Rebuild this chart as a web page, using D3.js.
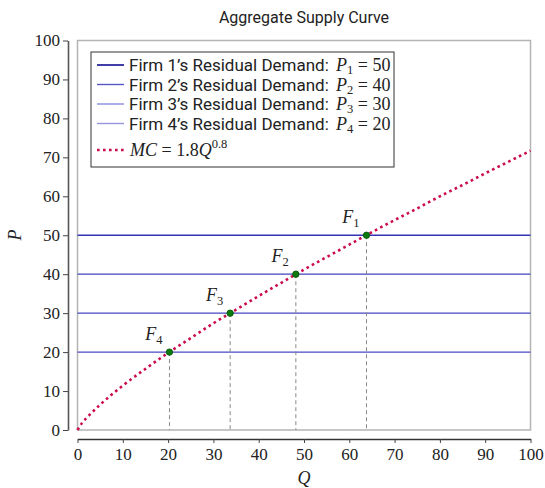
<!DOCTYPE html>
<html>
<head>
<meta charset="utf-8">
<script src="https://cdn.jsdelivr.net/npm/d3@7"></script>
<style>
  body { margin: 0; background: #fff; }
  svg { display: block; }
  .tick text { font-family: "Liberation Serif", serif; font-size: 17px; fill: #222; }
  .tick line { stroke: #444; }
</style>
</head>
<body>
<svg id="chart" width="545" height="488"></svg>
<script>
// residual demand levels, one per firm
var firms = ["1", "2", "3", "4"];
var demandP = [50, 40, 30, 20];
var crossQ = [63.8, 48.2, 33.7, 20.3];
// MC curve
var mcQ = [0, 1, 2, 5, 10, 15, 20, 25, 30, 35, 40, 45, 50, 55, 60, 65, 70, 75, 80, 85, 90, 95, 100];
var mcP = [0, 1.8, 3.1, 6.5, 11.4, 15.7, 19.8, 23.6, 27.4, 30.9, 34.4, 37.8, 41.2, 44.4, 47.6, 50.8, 53.9, 56.9, 60.0, 62.9, 65.9, 68.8, 71.7];
var xTicks = [0, 10, 20, 30, 40, 50, 60, 70, 80, 90, 100];
var yTicks = [0, 10, 20, 30, 40, 50, 60, 70, 80, 90, 100];

var lineColors = ["#3434b4", "#4242c0", "#4646c2", "#4a4ac4"];
var legendColors = ["#2a2a9e", "#5656c6", "#8c8cdc", "#9696de"];
var MC_COLOR = "#cc0a4e";
var SANS = "Roboto, sans-serif";
var SERIF = "Liberation Serif, serif";

var svg = d3.select("#chart");
var x = d3.scaleLinear().domain([0, 100]).range([77.5, 530.5]);
var y = d3.scaleLinear().domain([0, 100]).range([430, 40.5]);

// title
svg.append("text")
	.attr("x", 304).attr("y", 23)
	.attr("text-anchor", "middle")
	.style("font-family", SANS)
	.style("font-size", "16px")
	.style("fill", "#222")
	.text("Aggregate Supply Curve");

// plot frame
svg.append("rect")
	.attr("x", x(0)).attr("y", y(100))
	.attr("width", x(100) - x(0)).attr("height", y(0) - y(100))
	.attr("fill", "none").attr("stroke", "#b4b4b4").attr("stroke-width", 1.5);

// detached axes
var yAxis = svg.append("g")
	.attr("transform", "translate(68,0)")
	.call(d3.axisLeft(y).tickValues(yTicks).tickSize(5).tickSizeOuter(0).tickPadding(3));
yAxis.select(".domain").attr("stroke", "#555").attr("stroke-width", 1.6);

var xAxis = svg.append("g")
	.attr("transform", "translate(0,439)")
	.call(d3.axisBottom(x).tickValues(xTicks).tickSize(4).tickSizeOuter(0).tickPadding(5));
xAxis.select(".domain").attr("stroke", "#333").attr("stroke-width", 1.4);

svg.append("text")
	.attr("x", 304).attr("y", 484)
	.attr("text-anchor", "middle")
	.style("font-family", SERIF).style("font-style", "italic")
	.style("font-size", "18px").style("fill", "#222")
	.text("Q");

svg.append("text")
	.attr("transform", "translate(21,235) rotate(-90)")
	.attr("text-anchor", "middle")
	.style("font-family", SERIF).style("font-style", "italic")
	.style("font-size", "18px").style("fill", "#222")
	.text("P");

var plot = svg.append("g");

// residual demand lines
plot.selectAll("line.demand")
	.data(demandP)
	.enter().append("line")
	.attr("class", "demand")
	.attr("x1", x(0)).attr("x2", x(100))
	.attr("y1", function(d) { return y(d); })
	.attr("y2", function(d) { return y(d); })
	.attr("stroke", function(d, i) { return lineColors[i]; })
	.attr("stroke-width", function(d, i) { return i == 0 ? 1.6 : 1.2; });

// drops to the Q axis
plot.selectAll("line.drop")
	.data(crossQ)
	.enter().append("line")
	.attr("class", "drop")
	.attr("x1", function(d) { return x(d); })
	.attr("x2", function(d) { return x(d); })
	.attr("y1", function(d, i) { return y(demandP[i]); })
	.attr("y2", y(0))
	.attr("stroke", "#8a8a8a").attr("stroke-width", 1)
	.attr("stroke-dasharray", "4,3");

// MC curve
var mcLine = d3.line()
	.x(function(d) { return x(d[0]); })
	.y(function(d) { return y(d[1]); })
	.curve(d3.curveMonotoneX);

plot.append("path")
	.datum(d3.zip(mcQ, mcP))
	.attr("d", mcLine)
	.attr("fill", "none")
	.attr("stroke", MC_COLOR).attr("stroke-width", 2.6)
	.attr("stroke-dasharray", "2.6,3.4");

// intersection points
plot.selectAll("circle.cross")
	.data(crossQ)
	.enter().append("circle")
	.attr("class", "cross")
	.attr("cx", function(d) { return x(d); })
	.attr("cy", function(d, i) { return y(demandP[i]); })
	.attr("r", 3.2)
	.attr("fill", "#0c7a0c").attr("stroke", "#055205").attr("stroke-width", 0.8);

var labels = plot.selectAll("text.flabel")
	.data(crossQ)
	.enter().append("text")
	.attr("class", "flabel")
	.attr("x", function(d) { return x(d) - 7; })
	.attr("y", function(d, i) { return y(demandP[i]) - 12; })
	.attr("text-anchor", "end")
	.style("font-family", SERIF)
	.style("font-size", "18px").style("fill", "#222");
labels.append("tspan").style("font-style", "italic").text("F");
labels.append("tspan").attr("dy", 4).style("font-size", "12.5px")
	.text(function(d, i) { return firms[i]; });

// legend
var legend = svg.append("g").attr("transform", "translate(91,52)");
legend.append("rect")
	.attr("width", 303).attr("height", 115)
	.attr("fill", "#fff").attr("stroke", "#333").attr("stroke-width", 1);

var rowY = [13, 32.5, 52, 71.5, 98];

firms.forEach(function(f, i) {
	var row = legend.append("g").attr("transform", "translate(0," + rowY[i] + ")");
	row.append("line")
		.attr("x1", 6).attr("x2", 33)
		.attr("stroke", legendColors[i]).attr("stroke-width", i == 0 ? 1.8 : 1.4);
	var t = row.append("text").attr("x", 38).attr("y", 6)
		.style("fill", "#222");
	t.append("tspan").style("font-family", SANS).style("font-size", "17px")
		.text("Firm " + f + "\u2019s Residual Demand: ");
	t.append("tspan").style("font-family", SERIF).style("font-style", "italic")
		.style("font-size", "18px").attr("dx", 3).text("P");
	t.append("tspan").style("font-family", SERIF)
		.style("font-size", "12.5px").attr("dy", 3).text(f);
	t.append("tspan").style("font-family", SERIF)
		.style("font-size", "18px").attr("dy", -3).text(" = " + demandP[i]);
});

var mcRow = legend.append("g").attr("transform", "translate(0," + rowY[4] + ")");
mcRow.append("line")
	.attr("x1", 6).attr("x2", 33)
	.attr("stroke", MC_COLOR).attr("stroke-width", 2.6)
	.attr("stroke-dasharray", "2.6,3.4");
var mt = mcRow.append("text").attr("x", 39).attr("y", 6)
	.style("font-family", SERIF).style("font-size", "18px").style("fill", "#222");
mt.append("tspan").style("font-style", "italic").text("MC");
mt.append("tspan").text(" = 1.8");
mt.append("tspan").style("font-style", "italic").text("Q");
mt.append("tspan").style("font-size", "12.5px").attr("dy", -8).text("0.8");
</script>
</body>
</html>
